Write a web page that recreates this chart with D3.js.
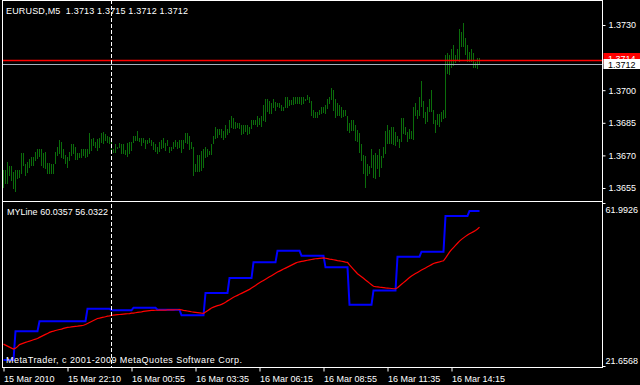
<!DOCTYPE html>
<html>
<head>
<meta charset="utf-8">
<script src="https://cdn.jsdelivr.net/npm/d3@7"></script>
<style>
  html, body { margin: 0; padding: 0; background: #000; }
  svg { display: block; }
  text { font-family: "Liberation Sans", Arial, sans-serif; font-size: 9px; fill: #fff; }
</style>
</head>
<body>
<div id="chart"></div>
<script>
// EURUSD M5 bars, oldest first (high / low)
const barHigh = [
  1.36633, 1.36633, 1.36671, 1.36651, 1.36651, 1.36625, 1.36633, 1.36633, 1.36633, 1.36713, 1.36713, 1.36661,
  1.36671, 1.36682, 1.36691, 1.36691, 1.36717, 1.36728, 1.36728, 1.36728, 1.36713, 1.36717, 1.36667, 1.36664,
  1.36661, 1.36661, 1.36717, 1.36737, 1.36771, 1.36763, 1.36728, 1.36702, 1.36694, 1.36717, 1.36753, 1.36753,
  1.36740, 1.36713, 1.36713, 1.36728, 1.36728, 1.36728, 1.36728, 1.36802, 1.36774, 1.36779, 1.36763, 1.36774,
  1.36779, 1.36802, 1.36809, 1.36799, 1.36789, 1.36783, 1.36771, 1.36728, 1.36753, 1.36740, 1.36759, 1.36753,
  1.36753, 1.36725, 1.36756, 1.36760, 1.36760, 1.36791, 1.36791, 1.36812, 1.36782, 1.36782, 1.36782, 1.36771,
  1.36771, 1.36782, 1.36771, 1.36760, 1.36751, 1.36740, 1.36760, 1.36771, 1.36782, 1.36756, 1.36771, 1.36740,
  1.36740, 1.36760, 1.36771, 1.36760, 1.36771, 1.36771, 1.36771, 1.36802, 1.36802, 1.36791, 1.36760, 1.36740,
  1.36659, 1.36702, 1.36702, 1.36720, 1.36728, 1.36737, 1.36728, 1.36722, 1.36753, 1.36789, 1.36832, 1.36820,
  1.36820, 1.36820, 1.36814, 1.36840, 1.36820, 1.36863, 1.36881, 1.36871, 1.36855, 1.36851, 1.36851, 1.36840,
  1.36840, 1.36840, 1.36840, 1.36832, 1.36863, 1.36863, 1.36863, 1.36881, 1.36871, 1.36881, 1.36932, 1.36958,
  1.36958, 1.36952, 1.36943, 1.36958, 1.36947, 1.36943, 1.36940, 1.36932, 1.36924, 1.36967, 1.36967, 1.36955,
  1.36955, 1.36967, 1.36967, 1.36967, 1.36967, 1.36967, 1.36967, 1.36958, 1.36978, 1.36970, 1.36952, 1.36909,
  1.36901, 1.36901, 1.36909, 1.36924, 1.36924, 1.36932, 1.36958, 1.36970, 1.37009, 1.37002, 1.36958, 1.36940,
  1.36932, 1.36924, 1.36909, 1.36909, 1.36881, 1.36851, 1.36863, 1.36863, 1.36840, 1.36817, 1.36805, 1.36753,
  1.36702, 1.36697, 1.36661, 1.36651, 1.36728, 1.36702, 1.36713, 1.36702, 1.36728, 1.36697, 1.36737, 1.36814,
  1.36840, 1.36817, 1.36829, 1.36829, 1.36809, 1.36789, 1.36774, 1.36871, 1.36871, 1.36829, 1.36809, 1.36820,
  1.36814, 1.36921, 1.36940, 1.36909, 1.36967, 1.37044, 1.36952, 1.36901, 1.36921, 1.36958, 1.37001, 1.36909,
  1.36863, 1.36891, 1.36891, 1.36901, 1.36909, 1.37162, 1.37173, 1.37162, 1.37188, 1.37208, 1.37162, 1.37188,
  1.37280, 1.37269, 1.37308, 1.37239, 1.37208, 1.37177, 1.37188, 1.37173, 1.37131, 1.37147, 1.37150
];
const barLow = [
  1.36556, 1.36572, 1.36572, 1.36610, 1.36587, 1.36549, 1.36538, 1.36595, 1.36599, 1.36621, 1.36656, 1.36610,
  1.36625, 1.36648, 1.36656, 1.36656, 1.36679, 1.36687, 1.36697, 1.36656, 1.36648, 1.36641, 1.36621, 1.36621,
  1.36621, 1.36621, 1.36664, 1.36702, 1.36710, 1.36691, 1.36687, 1.36664, 1.36648, 1.36679, 1.36702, 1.36713,
  1.36682, 1.36682, 1.36691, 1.36691, 1.36702, 1.36694, 1.36697, 1.36710, 1.36725, 1.36748, 1.36740, 1.36725,
  1.36740, 1.36763, 1.36759, 1.36771, 1.36763, 1.36756, 1.36710, 1.36717, 1.36717, 1.36733, 1.36737, 1.36713,
  1.36710, 1.36705, 1.36699, 1.36710, 1.36725, 1.36760, 1.36771, 1.36771, 1.36766, 1.36748, 1.36760, 1.36736,
  1.36756, 1.36763, 1.36748, 1.36730, 1.36720, 1.36710, 1.36720, 1.36733, 1.36740, 1.36725, 1.36748, 1.36717,
  1.36725, 1.36736, 1.36745, 1.36733, 1.36740, 1.36717, 1.36736, 1.36760, 1.36756, 1.36730, 1.36733, 1.36610,
  1.36628, 1.36628, 1.36628, 1.36633, 1.36645, 1.36691, 1.36697, 1.36707, 1.36707, 1.36759, 1.36779, 1.36786,
  1.36799, 1.36786, 1.36774, 1.36783, 1.36799, 1.36809, 1.36832, 1.36825, 1.36825, 1.36829, 1.36825, 1.36799,
  1.36805, 1.36814, 1.36799, 1.36805, 1.36825, 1.36845, 1.36845, 1.36835, 1.36845, 1.36835, 1.36863, 1.36860,
  1.36906, 1.36897, 1.36897, 1.36924, 1.36909, 1.36927, 1.36921, 1.36909, 1.36909, 1.36924, 1.36921, 1.36932,
  1.36937, 1.36937, 1.36940, 1.36940, 1.36940, 1.36937, 1.36943, 1.36955, 1.36958, 1.36947, 1.36886, 1.36878,
  1.36878, 1.36878, 1.36891, 1.36894, 1.36901, 1.36897, 1.36917, 1.36943, 1.36958, 1.36909, 1.36878, 1.36886,
  1.36886, 1.36878, 1.36881, 1.36886, 1.36817, 1.36809, 1.36817, 1.36817, 1.36771, 1.36768, 1.36717, 1.36679,
  1.36621, 1.36556, 1.36610, 1.36621, 1.36648, 1.36602, 1.36595, 1.36641, 1.36605, 1.36648, 1.36691, 1.36713,
  1.36759, 1.36759, 1.36759, 1.36753, 1.36748, 1.36768, 1.36737, 1.36768, 1.36802, 1.36799, 1.36768, 1.36779,
  1.36779, 1.36774, 1.36886, 1.36871, 1.36886, 1.36927, 1.36878, 1.36848, 1.36860, 1.36906, 1.36906, 1.36848,
  1.36809, 1.36845, 1.36835, 1.36860, 1.36871, 1.36875, 1.37078, 1.37075, 1.37108, 1.37116, 1.37131, 1.37139,
  1.37136, 1.37203, 1.37203, 1.37167, 1.37136, 1.37136, 1.37136, 1.37108, 1.37108, 1.37101, 1.37120
];
// MYLine indicator, buffer 0 (blue) and buffer 1 (red)
const myLineBlue = [
  23.13, 23.13, 23.13, 23.13, 23.13, 23.13, 30.27, 30.27, 30.27, 30.27, 30.27, 30.27,
  30.27, 30.27, 30.27, 30.27, 30.27, 30.27, 32.73, 32.73, 32.73, 32.73, 32.73, 32.73,
  32.73, 32.73, 32.73, 32.73, 32.73, 32.73, 32.73, 32.73, 32.73, 32.73, 32.73, 32.73,
  32.73, 32.73, 32.73, 32.73, 32.73, 32.73, 35.85, 35.85, 35.85, 35.85, 35.85, 35.85,
  35.85, 35.85, 35.85, 35.85, 35.85, 35.85, 35.43, 35.43, 35.43, 35.43, 35.43, 35.43,
  35.43, 35.43, 35.43, 35.43, 35.43, 36.09, 36.09, 36.09, 36.09, 36.09, 36.09, 36.09,
  36.09, 36.09, 36.09, 36.09, 36.09, 35.60, 35.60, 35.60, 35.60, 35.60, 35.60, 35.60,
  35.60, 35.60, 35.60, 35.60, 35.60, 34.20, 34.20, 34.20, 34.20, 34.20, 34.20, 34.20,
  34.20, 34.20, 34.20, 34.20, 34.20, 39.73, 39.73, 39.73, 39.73, 39.73, 39.73, 39.73,
  39.73, 39.73, 39.73, 39.73, 39.73, 43.42, 43.42, 43.42, 43.42, 43.42, 43.42, 43.42,
  43.42, 43.42, 43.42, 43.42, 43.42, 47.31, 47.31, 47.31, 47.31, 47.31, 47.31, 47.31,
  47.31, 47.31, 47.31, 47.31, 47.31, 50.19, 50.19, 50.19, 50.19, 50.19, 50.19, 50.19,
  50.19, 50.19, 50.19, 50.19, 50.19, 48.96, 48.96, 48.96, 48.96, 48.96, 48.96, 48.96,
  48.96, 48.96, 48.96, 48.96, 48.96, 46.08, 46.08, 46.08, 46.08, 46.08, 46.08, 46.08,
  46.08, 46.08, 46.08, 46.08, 46.08, 36.83, 36.83, 36.83, 36.83, 36.83, 36.83, 36.83,
  36.83, 36.83, 36.83, 36.83, 36.83, 40.35, 40.35, 40.35, 40.35, 40.35, 40.35, 40.35,
  40.35, 40.35, 40.35, 40.35, 40.35, 48.71, 48.71, 48.71, 48.71, 48.71, 48.71, 48.71,
  48.71, 48.71, 48.71, 48.71, 48.71, 49.94, 49.94, 49.94, 49.94, 49.94, 49.94, 49.94,
  49.94, 49.94, 49.94, 49.94, 49.94, 58.79, 58.79, 58.79, 58.79, 58.79, 58.79, 58.79,
  58.79, 58.79, 58.79, 58.79, 58.79, 60.04, 60.04, 60.04, 60.04, 60.04, 60.04
];
const myLineRed = [
  27.07, 26.82, 26.58, 26.33, 26.08, 25.84, 26.08, 26.45, 26.95, 27.14, 27.32, 27.49,
  27.66, 27.81, 27.98, 28.15, 28.30, 28.47, 28.74, 28.99, 29.23, 29.48, 29.72, 29.97,
  30.17, 30.29, 30.44, 30.56, 30.68, 30.80, 30.95, 31.08, 31.20, 31.25, 31.32, 31.40,
  31.47, 31.52, 31.59, 31.67, 31.74, 31.94, 32.18, 32.43, 32.67, 32.92, 33.17, 33.41,
  33.51, 33.63, 33.73, 33.85, 33.98, 34.08, 34.20, 34.25, 34.30, 34.35, 34.40, 34.44,
  34.49, 34.54, 34.59, 34.64, 34.72, 34.76, 34.84, 34.91, 34.99, 35.06, 35.16, 35.23,
  35.31, 35.38, 35.43, 35.43, 35.45, 35.45, 35.48, 35.48, 35.50, 35.50, 35.53, 35.53,
  35.55, 35.55, 35.58, 35.58, 35.60, 35.53, 35.43, 35.35, 35.26, 35.18, 35.08, 35.01,
  34.94, 34.86, 34.79, 34.72, 34.69, 35.01, 35.35, 35.67, 35.99, 36.22, 36.41, 36.58,
  36.73, 36.90, 37.15, 37.45, 37.77, 38.06, 38.38, 38.65, 38.90, 39.14, 39.39, 39.63,
  39.88, 40.13, 40.37, 40.62, 40.94, 41.26, 41.58, 41.92, 42.24, 42.54, 42.83, 43.13,
  43.42, 43.72, 44.01, 44.31, 44.60, 44.90, 45.14, 45.39, 45.64, 45.88, 46.13, 46.37,
  46.62, 46.86, 47.11, 47.33, 47.43, 47.53, 47.63, 47.73, 47.82, 47.92, 48.02, 48.12,
  48.19, 48.24, 48.29, 48.34, 48.39, 48.32, 48.22, 48.12, 48.05, 47.95, 47.85, 47.75,
  47.68, 47.58, 47.48, 47.38, 47.31, 46.67, 46.13, 45.59, 45.04, 44.50, 44.13, 43.74,
  43.35, 42.95, 42.56, 42.17, 41.77, 41.38, 41.28, 41.23, 41.16, 41.11, 41.06, 40.99,
  40.94, 40.89, 40.84, 40.77, 40.77, 41.01, 41.45, 41.87, 42.29, 42.71, 43.13, 43.54,
  43.94, 44.23, 44.53, 44.82, 45.12, 45.39, 45.66, 45.93, 46.20, 46.47, 46.74, 47.01,
  47.16, 47.31, 47.43, 47.58, 47.70, 48.34, 49.08, 49.82, 50.46, 50.97, 51.49, 52.03,
  52.55, 52.99, 53.36, 53.73, 54.10, 54.37, 54.64, 54.91, 55.20, 55.55, 56.03
];

const priceTicks = [1.3655, 1.3670, 1.3685, 1.3700, 1.3730];
const timeTickBars = [0, 32, 64, 96, 128, 160, 192, 224];
const timeTickLabels = ['15 Mar 2010', '15 Mar 22:10', '16 Mar 00:55', '16 Mar 03:35',
  '16 Mar 06:15', '16 Mar 08:55', '16 Mar 11:35', '16 Mar 14:15'];
const bid = 1.3712, ask = 1.3714;
const daySeparatorBar = 54;
const headerText = 'EURUSD,M5  1.3713 1.3715 1.3712 1.3712';
const indText = 'MYLine 60.0357 56.0322';
const indRange = [21.6568, 61.9926];
const copyright = 'MetaTrader, c 2001-2009 MetaQuotes Software Corp.';

const W = 640, H = 385;
const left = 2.5, right = 602.5, axisY = 367.5;
const font = '"Liberation Sans", Arial, sans-serif';

const svg = d3.select('#chart').append('svg')
  .attr('width', W).attr('height', H)
  .style('background', '#000');

const n = barHigh.length;
const x = d3.scaleLinear().domain([0, n - 1]).range([3, 3 + 2 * (n - 1)]);
const yP = d3.scaleLinear().domain([1.3655, 1.3730]).range([188, 25]);
const yI = d3.scaleLinear().domain(indRange).range([366, 203]);

// price bars
svg.append('g')
  .attr('fill', '#0b6d0b')
  .selectAll('rect')
  .data(d3.range(n))
  .join('rect')
  .attr('x', (i) => x(i))
  .attr('width', 1)
  .attr('y', (i) => Math.round(yP(barHigh[i])))
  .attr('height', (i) => Math.max(1, Math.round(yP(barLow[i])) - Math.round(yP(barHigh[i])) + 1));

// bid / ask lines
svg.append('line')
  .attr('x1', left).attr('x2', right)
  .attr('y1', Math.round(yP(bid)) + 0.5).attr('y2', Math.round(yP(bid)) + 0.5)
  .attr('stroke', '#a8b0bc').attr('stroke-width', 1);
svg.append('line')
  .attr('x1', left).attr('x2', right)
  .attr('y1', Math.round(yP(ask)) + 0.5).attr('y2', Math.round(yP(ask)) + 0.5)
  .attr('stroke', '#ff0000').attr('stroke-width', 1.5);

// indicator lines
const line = (arr) => d3.line().x((d, i) => x(i) + 0.5).y((d) => yI(d))(arr);
svg.append('path').attr('d', line(myLineBlue))
  .attr('fill', 'none').attr('stroke', '#0000ff').attr('stroke-width', 2);
svg.append('path').attr('d', line(myLineRed))
  .attr('fill', 'none').attr('stroke', '#ff0000').attr('stroke-width', 1.2);

// day separator
svg.append('line')
  .attr('x1', x(daySeparatorBar) + 0.5).attr('x2', x(daySeparatorBar) + 0.5)
  .attr('y1', 0).attr('y2', axisY)
  .attr('stroke', '#fff').attr('stroke-dasharray', '4,2');

// frame
const frame = svg.append('g').attr('stroke', '#fff').attr('fill', 'none').attr('shape-rendering', 'crispEdges');
frame.append('line').attr('x1', left).attr('x2', left).attr('y1', 0).attr('y2', axisY);
frame.append('line').attr('x1', right).attr('x2', right).attr('y1', 0).attr('y2', axisY);
frame.append('line').attr('x1', left).attr('x2', right).attr('y1', 0.5).attr('y2', 0.5);
frame.append('line').attr('x1', left).attr('x2', right).attr('y1', 201.5).attr('y2', 201.5);
frame.append('line').attr('x1', left).attr('x2', right).attr('y1', axisY).attr('y2', axisY);

// price axis
const pAxis = svg.append('g')
  .attr('transform', `translate(${right},0)`)
  .call(d3.axisRight(yP).tickValues(priceTicks).tickSize(3).tickPadding(3).tickFormat(d3.format('.4f')));
pAxis.select('.domain').remove();
pAxis.selectAll('line').attr('stroke', '#fff');
pAxis.selectAll('text').attr('fill', '#fff').style('font-size', '9px').style('font-family', font);

// indicator axis
const iAxis = svg.append('g')
  .attr('transform', `translate(${right},0)`)
  .call(d3.axisRight(yI).tickValues(indRange).tickSize(3).tickPadding(0).tickFormat(d3.format('.4f')));
iAxis.select('.domain').remove();
iAxis.selectAll('line').attr('stroke', '#fff');
iAxis.selectAll('text').attr('fill', '#fff').style('font-size', '9px').style('font-family', font)
  .attr('dy', (d) => (d === indRange[1] ? '1.05em' : '-0.25em'));

// time axis
const tAxis = svg.append('g')
  .attr('transform', `translate(0.5,${axisY})`)
  .call(d3.axisBottom(x).tickValues(timeTickBars).tickSize(4).tickPadding(4).tickFormat((d, i) => timeTickLabels[i]));
tAxis.select('.domain').remove();
tAxis.selectAll('line').attr('stroke', '#fff');
tAxis.selectAll('text').attr('fill', '#fff').attr('text-anchor', 'start').attr('dx', '0')
  .style('font-size', '9px').style('font-family', font);

// current price labels
const askY = Math.round(yP(ask));
const bidY = Math.round(yP(bid));
svg.append('rect').attr('x', right + 1).attr('y', askY - 7).attr('width', W - right).attr('height', 11).attr('fill', '#ff0000');
svg.append('text').attr('x', 608).attr('y', askY + 2).text(d3.format('.4f')(ask));
svg.append('rect').attr('x', right + 1).attr('y', bidY - 5).attr('width', W - right).attr('height', 10).attr('fill', '#fff');
svg.append('text').attr('x', 608).attr('y', bidY + 3.5).style('fill', '#000').text(d3.format('.4f')(bid));

// texts
svg.append('text').attr('x', 6).attr('y', 14).attr('textLength', 182).attr('lengthAdjust', 'spacing')
  .style('white-space', 'pre').text(headerText);
svg.append('text').attr('x', 7).attr('y', 215).attr('textLength', 101).attr('lengthAdjust', 'spacing').text(indText);
svg.append('text').attr('x', 6).attr('y', 363).attr('textLength', 236).attr('lengthAdjust', 'spacing').text(copyright);
</script>
</body>
</html>
